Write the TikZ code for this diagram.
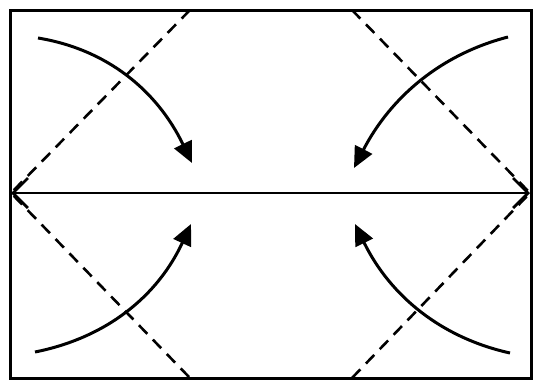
\documentclass[tikz,border=0pt]{standalone}
\usepackage{tikz}
\usetikzlibrary{arrows.meta}

\begin{document}
\begin{tikzpicture}[x=1pt, y=1pt, line width=3pt, fold/.style={dashed, line width=2.6pt, dash pattern=on 12pt off 8pt}, turn/.style={line width=3pt, -{Triangle[length=21pt,width=19pt]}}, crease/.style={line width=2.8pt, {Straight Barb[length=15pt,width=30pt]}-{Straight Barb[length=15pt,width=30pt]}}]
\useasboundingbox (0,0) rectangle (536,-381);
\coordinate (tl) at (10,-10); \coordinate (br) at (531,-378);
\coordinate (ml) at (11,-193); \coordinate (mr) at (530,-193);
\coordinate (tu) at (190,-10); \coordinate (tv) at (352,-10);
\coordinate (bu) at (190,-378); \coordinate (bv) at (352,-378);
\draw (tl) rectangle (br);
\draw[fold] (tu) -- (ml) -- (bu); \draw[fold] (tv) -- (mr) -- (bv);
\draw[crease] (ml) -- (mr);
% the four turning arrows
\draw[turn] (38,-38) .. controls (106.7,-49.3) and (156.7,-90) .. (192,-163);
\draw[turn] (508,-37) .. controls (441,-54.3) and (390.7,-97) .. (354,-168);
\draw[turn] (35,-352) .. controls (106.7,-337.7) and (157.7,-296) .. (191,-224);
\draw[turn] (510,-353) .. controls (441,-337.7) and (390,-295.7) .. (355,-224);
\end{tikzpicture}
\end{document}
